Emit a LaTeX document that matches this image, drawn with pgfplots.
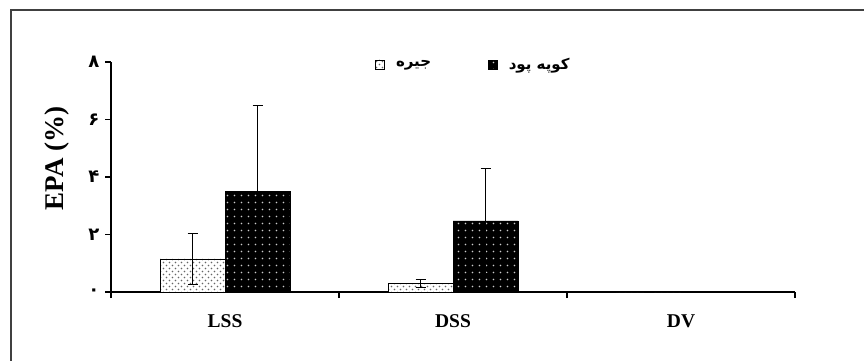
\documentclass[border=0pt]{standalone}
\usepackage{fontspec}
\setmainfont{Liberation Serif}
\newfontfamily\fa[Script=Arabic]{DejaVu Sans}
\TeXXeTstate=1
\usepackage{pgfplots}
\pgfplotsset{compat=1.18}
\usetikzlibrary{patterns}
\pgfdeclarepatternformonly{wdots}{\pgfqpoint{-1pt}{-1pt}}{\pgfqpoint{8pt}{8pt}}{\pgfqpoint{7pt}{7pt}}{%
  \pgfpathcircle{\pgfqpoint{3.5pt}{3.5pt}}{0.9pt}\pgfusepath{fill}}
\pgfdeclarepatternformonly{gdots}{\pgfqpoint{-1pt}{-1pt}}{\pgfqpoint{7pt}{7pt}}{\pgfqpoint{6pt}{6pt}}{%
  \pgfpathcircle{\pgfqpoint{1.5pt}{1.5pt}}{0.85pt}\pgfusepath{fill}%
  \pgfpathcircle{\pgfqpoint{4.5pt}{4.5pt}}{0.85pt}\pgfusepath{fill}}
\newcommand{\yt}[1]{{\fontsize{18}{20}\selectfont\fa\bfseries #1}}
\newcommand{\xt}[1]{{\fontsize{19.5}{22}\selectfont\bfseries #1}}
\newcommand{\lgd}[1]{{\fontsize{15}{17}\selectfont\fa\bfseries\beginR #1\endR}}
\begin{document}
\begin{tikzpicture}
\useasboundingbox (0,0) rectangle (864pt,360pt);
\draw[line width=1.3pt, black!75] (11pt,-10pt) -- (11pt,350pt) -- (880pt,350pt);
\begin{axis}[
  at={(111pt,68pt)}, anchor=south west,
  width=684pt, height=230pt, scale only axis,
  xmin=-0.5, xmax=2.5, ymin=0, ymax=8,
  axis lines=left, axis line style={line width=1.3pt, -},
  ytick={0,2,4,6,8},
  yticklabels={\yt{۰},\yt{۲},\yt{۴},\yt{۶},\yt{۸}},
  yticklabel style={xshift=-2pt},
  xtick={-0.5,0.5,1.5,2.5}, xticklabels={},
  extra x ticks={0,1,2}, extra x tick labels={\xt{LSS},\xt{DSS},\xt{DV}},
  extra x tick style={major tick length=0pt, xticklabel style={yshift=-19pt}},
  tick align=outside, major tick length=6pt,
  tick style={line width=1.2pt, black},
  ylabel={\fontsize{27}{30}\selectfont\bfseries EPA (\%)},
  ylabel style={at={(axis description cs:-0.079,0.58)}, anchor=center},
  ybar, bar width=65pt,
  legend style={draw=none, at={(axis description cs:0.53,0.99)}, anchor=center, legend columns=2,
    /tikz/every odd column/.append style={column sep=9pt},
    /tikz/every even column/.append style={column sep=55pt}},
  legend image code/.code={\draw[#1] (0pt,-4.5pt) rectangle (9pt,4.5pt);},
  clip=false,
]
\addplot[bar shift=-32.5pt, draw=black, line width=0.6pt, fill=white,
  postaction={pattern=gdots, pattern color=black!60},
  error bars/.cd, y dir=both, y explicit,
  error bar style={line width=0.8pt, black},
  error mark options={rotate=90, mark size=5pt, line width=0.8pt, black}]
  coordinates {(0,1.15) +- (0,0.9) (1,0.3) +- (0,0.15) (2,0) +- (0,0)};
\addplot[bar shift=32.5pt, draw=black, line width=0.6pt, fill=black,
  postaction={pattern=wdots, pattern color=white!80!black},
  error bars/.cd, y dir=both, y explicit,
  error bar style={line width=0.8pt, black},
  error mark options={rotate=90, mark size=5pt, line width=0.8pt, black}]
  coordinates {(0,3.5) +- (0,3.0) (1,2.47) +- (0,1.83) (2,0) +- (0,0)};
\legend{\lgd{جیره},\lgd{کوپه پود}}
\end{axis}
\end{tikzpicture}
\end{document}
